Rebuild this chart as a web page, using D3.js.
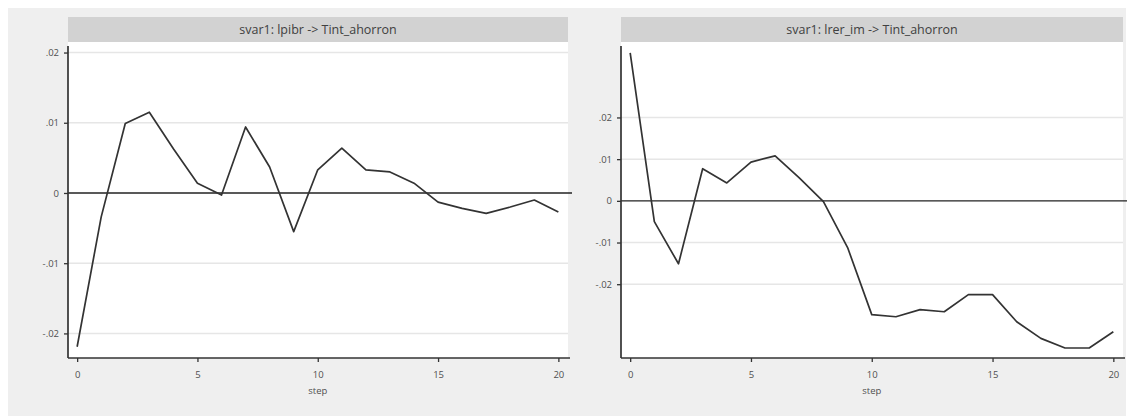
<!DOCTYPE html>
<html>
<head>
<meta charset="utf-8">
<script src="https://cdn.jsdelivr.net/npm/d3@7"></script>
<style>
  html, body { margin: 0; padding: 0; background: #ffffff; }
  svg { display: block; }
  text { font-family: "Open Sans", "DejaVu Sans", sans-serif; }
</style>
</head>
<body>
<svg id="chart" width="1130" height="416"></svg>
<script>
// Impulse responses of Tint_ahorron, steps 0..20
const steps = d3.range(0, 21);
const irfLpibr = [-0.0219, -0.0034, 0.0099, 0.0115, 0.0063, 0.0014, -0.0003, 0.0094, 0.0037, -0.0055,
                  0.0033, 0.0064, 0.0033, 0.0030, 0.0014, -0.0013, -0.0022, -0.0029, -0.0020, -0.0010, -0.0027];
const irfLrerIm = [0.0355, -0.0050, -0.0151, 0.0077, 0.0043, 0.0093, 0.0108, 0.0055, -0.0002, -0.0112,
                   -0.0273, -0.0278, -0.0261, -0.0266, -0.0225, -0.0225, -0.0290, -0.0330, -0.0353, -0.0353, -0.0314];
const panelTitles = ["svar1: lpibr -> Tint_ahorron", "svar1: lrer_im -> Tint_ahorron"];
const yTickValues = [-0.02, -0.01, 0, 0.01, 0.02];
const yTickLabels = ["-.02", "-.01", "0", ".01", ".02"];
const xTickValues = [0, 5, 10, 15, 20];
const xAxisTitle = "step";

const svg = d3.select("#chart");

// graph region background
svg.append("rect").attr("x", 8).attr("y", 8).attr("width", 1118).attr("height", 408).attr("fill", "#efefef");

const panels = [
  { title: panelTitles[0], values: irfLpibr, left: 68, right: 568, titleRight: 568, yDomain: [-0.0235, 0.0215] },
  { title: panelTitles[1], values: irfLrerIm, left: 621, right: 1123, titleRight: 1123, yDomain: [-0.0377, 0.0381] }
];
const plotTop = 42, plotBottom = 358;
const labelFont = "Open Sans, DejaVu Sans, sans-serif";

panels.forEach(p => {
  const g = svg.append("g");
  const x = d3.scaleLinear().domain([-0.38, 20.4]).range([p.left, p.right]);
  const y = d3.scaleLinear().domain(p.yDomain).range([plotBottom, plotTop]);

  // title strip
  g.append("rect").attr("x", p.left).attr("y", 17).attr("width", p.titleRight - p.left).attr("height", 25)
    .attr("fill", "#d2d2d2");
  g.append("text").attr("x", (p.left + p.titleRight) / 2).attr("y", 34)
    .attr("text-anchor", "middle").attr("font-size", 12.5).attr("fill", "#404040").text(p.title);

  // plot region
  g.append("rect").attr("x", p.left).attr("y", plotTop).attr("width", p.right - p.left).attr("height", plotBottom - plotTop)
    .attr("fill", "#ffffff");

  // gridlines
  g.append("g").selectAll("line").data(yTickValues.filter(v => v !== 0)).join("line")
    .attr("x1", p.left).attr("x2", p.right)
    .attr("y1", d => y(d)).attr("y2", d => y(d))
    .attr("stroke", "#e6e6e6").attr("stroke-width", 1.5);

  // zero reference line
  g.append("line").attr("x1", p.left).attr("x2", p.right + 4).attr("y1", y(0)).attr("y2", y(0))
    .attr("stroke", "#222").attr("stroke-width", 1.3);

  // response line
  const line = d3.line().x((d, i) => x(steps[i])).y(d => y(d));
  g.append("path").datum(p.values).attr("d", line)
    .attr("fill", "none").attr("stroke", "#333").attr("stroke-width", 1.7).attr("stroke-linejoin", "round");

  // y axis
  const yAxis = d3.axisLeft(y).tickValues(yTickValues).tickSize(4).tickPadding(5)
    .tickFormat((d, i) => yTickLabels[i]);
  const ya = g.append("g").attr("transform", `translate(${p.left},0)`).call(yAxis);
  ya.select(".domain").attr("d", `M0,${plotTop + 4}V${plotBottom}`).attr("stroke", "#333").attr("stroke-width", 1.7);
  ya.selectAll(".tick line").attr("stroke", "#333").attr("stroke-width", 1.3);
  ya.selectAll(".tick text").attr("font-size", 9.5).attr("fill", "#505050").attr("font-family", labelFont);

  // x axis
  const xAxis = d3.axisBottom(x).tickValues(xTickValues).tickSize(4).tickPadding(9).tickFormat(d3.format("d"));
  const xa = g.append("g").attr("transform", `translate(0,${plotBottom})`).call(xAxis);
  xa.select(".domain").attr("d", `M${p.left},0H${p.right + 2}`).attr("stroke", "#333").attr("stroke-width", 1.7);
  xa.selectAll(".tick line").attr("stroke", "#333").attr("stroke-width", 1.3);
  xa.selectAll(".tick text").attr("font-size", 9.5).attr("fill", "#505050").attr("font-family", labelFont);

  g.append("text").attr("x", x(10)).attr("y", 394).attr("text-anchor", "middle")
    .attr("font-size", 9.5).attr("fill", "#505050").text(xAxisTitle);
});
</script>
</body>
</html>
